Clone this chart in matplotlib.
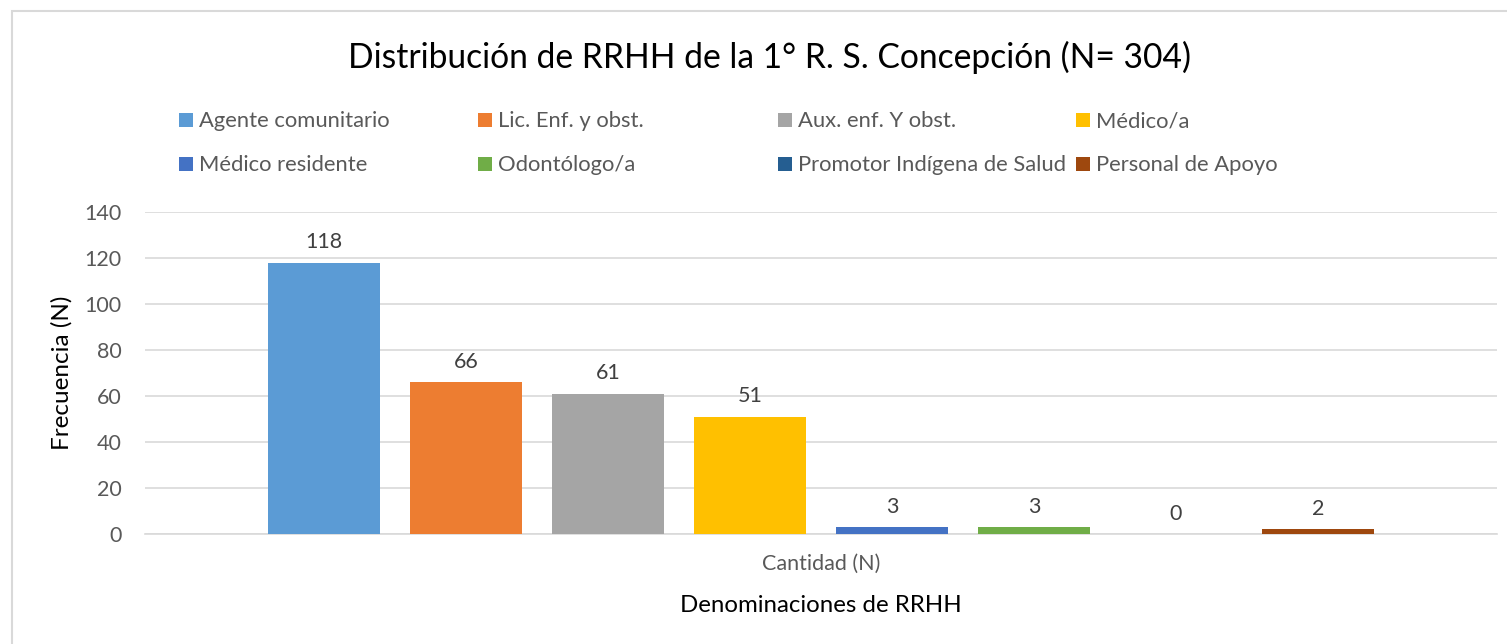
import matplotlib
matplotlib.use("Agg")
import matplotlib.pyplot as plt
from matplotlib.patches import Rectangle

categories = ["Agente comunitario", "Lic. Enf. y obst.", "Aux. enf. Y obst.", "Médico/a",
              "Médico residente", "Odontólogo/a", "Promotor Indígena de Salud", "Personal de Apoyo"]
values = [118, 66, 61, 51, 3, 3, 0, 2]
colors = ["#5B9BD5", "#ED7D31", "#A5A5A5", "#FFC000", "#4472C4", "#70AD47", "#255E91", "#9E480E"]
yticks = [0, 20, 40, 60, 80, 100, 120, 140]

plt.rcParams['font.family'] = ['Lato', 'DejaVu Sans']

W, H = 1507, 644
fig = plt.figure(figsize=(W / 100, H / 100), dpi=100)

# chart border
fig.patches.append(Rectangle((12 / W, -0.2), 1.2, (H - 11) / H + 0.2, transform=fig.transFigure,
                             fill=False, edgecolor="#D9D9D9", linewidth=1.5))

ax = fig.add_axes([145 / W, 110 / H, (1497 - 145) / W, 322 / H])
xs = list(range(len(values)))
bw = 112 / 142
bars = ax.bar(xs, values, width=bw, color=colors, label=categories, zorder=3)
for x, v in zip(xs, values):
    ax.text(x, v + 4.5, str(v), ha="center", va="bottom", fontsize=15.5, color="#404040")

ax.set_xlim(-1.26, 8.26)
ax.set_ylim(0, 140)
ax.set_yticks(yticks)
ax.set_xticks([])
ax.yaxis.grid(True, color="#D9D9D9", linewidth=1.2, zorder=0)
for s in ["top", "right", "left"]:
    ax.spines[s].set_visible(False)
ax.spines["bottom"].set_color("#D9D9D9")
ax.spines["bottom"].set_linewidth(1.2)
ax.tick_params(axis="y", length=0, labelsize=15.5, labelcolor="#595959", pad=17)

fig.text(62 / W, 1 - 373 / H, "Frecuencia (N)", rotation=90, ha="center", va="center",
         fontsize=17.5, color="#000000")
fig.text(821 / W, 1 - 564 / H, "Cantidad (N)", ha="center", va="center", fontsize=15.5, color="#595959")
fig.text(821 / W, 1 - 605 / H, "Denominaciones de RRHH", ha="center", va="center", fontsize=17.3,
         color="#000000")
fig.text(769 / W, 1 - 57 / H, "Distribución de RRHH de la 1° R. S. Concepción (N= 304)",
         ha="center", va="center", fontsize=24.2, color="#000000")

# legend: 2 rows x 4 equal-width columns, row-major
col_x = [180, 479, 779, 1077]
row_y = [120, 164]
for i, (name, c) in enumerate(zip(categories, colors)):
    r, k = divmod(i, 4)
    x0, y0 = col_x[k], row_y[r]
    fig.patches.append(Rectangle(((x0 - 1) / W, 1 - (y0 + 7) / H), 14 / W, 14 / H,
                                 transform=fig.transFigure, facecolor=c, edgecolor="none"))
    fig.text((x0 + 19) / W, 1 - (y0 + 1) / H, name, ha="left", va="center", fontsize=15.8,
             color="#595959")

fig.savefig("out.png", dpi=100)
